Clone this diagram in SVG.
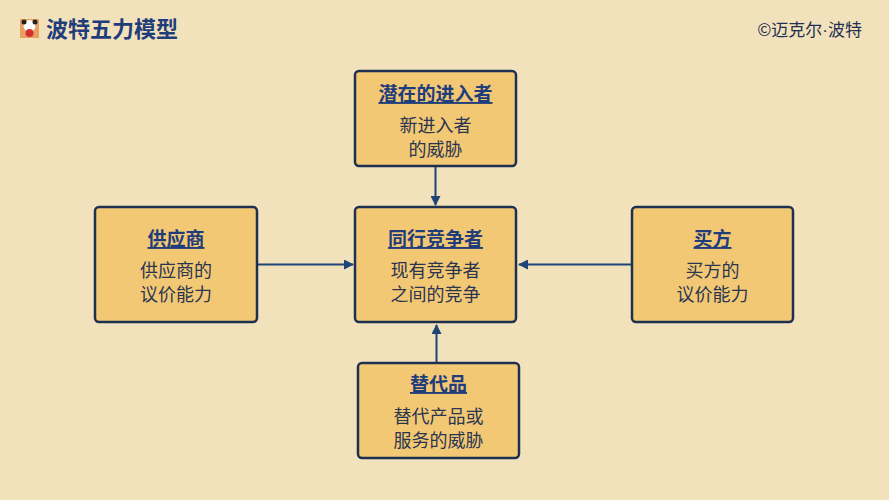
<svg xmlns="http://www.w3.org/2000/svg" width="889" height="500" viewBox="0 0 889 500">
<defs>
<style>
.n{fill:#f3c875;stroke:#1e3050;stroke-width:2.5}
.t{font-family:"Noto Sans CJK SC",sans-serif;font-size:19px;font-weight:bold;fill:#1f3d7a;text-anchor:middle;text-decoration:underline}
.b{font-family:"Noto Sans CJK SC",sans-serif;font-size:18px;fill:#2a3550;text-anchor:middle}
.c{stroke:#1f4577;stroke-width:2;fill:none;marker-end:url(#a)}
</style>
<marker id="a" viewBox="0 0 10 10" refX="9" refY="5" markerWidth="5" markerHeight="5" orient="auto"><path d="M0,0L10,5L0,10z" fill="#1f4577"/></marker>
</defs>
<rect width="889" height="500" fill="#f2e2bc"/>
<g id="logo">
<rect x="20" y="19" width="19" height="19" fill="#e8a060"/>
<circle cx="29.5" cy="26" r="6" fill="#fff"/>
<circle cx="24" cy="22" r="2.5" fill="#222"/><circle cx="35" cy="22" r="2.5" fill="#222"/>
<circle cx="29.5" cy="33" r="4" fill="#d03030"/>
</g>
<text x="46" y="37" font-family="Noto Sans CJK SC,sans-serif" font-size="22" font-weight="bold" fill="#1f3d7a">波特五力模型</text>
<text x="862" y="36" font-family="Noto Sans CJK SC,sans-serif" font-size="17" fill="#1f3050" text-anchor="end">©迈克尔<tspan font-family="Liberation Sans,sans-serif">·</tspan>波特</text>
<g id="connectors">
<path class="c" d="M435.5,167V205"/>
<path class="c" d="M258,264.5H353"/>
<path class="c" d="M631,264.5H519"/>
<path class="c" d="M436.5,362V325"/>
</g>
<g id="top"><rect class="n" x="355" y="71" width="161" height="95" rx="4"/><text class="t" x="435.5" y="101">潜在的进入者</text><text class="b" x="435.5" y="132">新进入者</text><text class="b" x="435.5" y="156">的威胁</text></g>
<g id="center"><rect class="n" x="355" y="207" width="161" height="115" rx="4"/><text class="t" x="435.5" y="246">同行竞争者</text><text class="b" x="435.5" y="277">现有竞争者</text><text class="b" x="435.5" y="301">之间的竞争</text></g>
<g id="left"><rect class="n" x="95" y="207" width="162" height="115" rx="4"/><text class="t" x="176" y="246">供应商</text><text class="b" x="176" y="277">供应商的</text><text class="b" x="176" y="301">议价能力</text></g>
<g id="right"><rect class="n" x="632" y="207" width="161" height="115" rx="4"/><text class="t" x="712.5" y="246">买方</text><text class="b" x="712.5" y="277">买方的</text><text class="b" x="712.5" y="301">议价能力</text></g>
<g id="bottom"><rect class="n" x="358" y="363" width="161" height="95" rx="4"/><text class="t" x="438.5" y="391">替代品</text><text class="b" x="438.5" y="423">替代产品或</text><text class="b" x="438.5" y="447">服务的威胁</text></g>
</svg>
